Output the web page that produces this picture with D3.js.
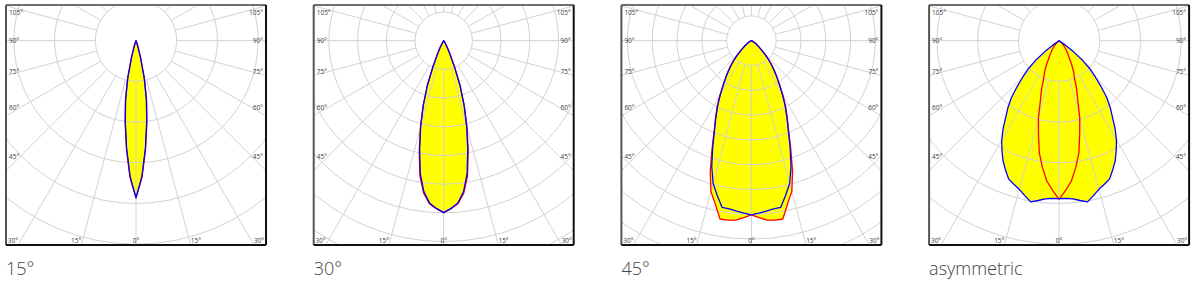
<!DOCTYPE html>
<html>
<head>
<meta charset="utf-8">
<script src="https://cdn.jsdelivr.net/npm/d3@7"></script>
<style>
    body { margin: 0; background: #fff; }
    svg { display: block; font-family: "Open Sans", sans-serif; }
</style>
</head>
<body>
<div id="chart"></div>
<script>
// beam names under each diagram
const titles = ["15°", "30°", "45°", "asymmetric"];

// gamma angles (deg from nadir), shared by all curves
const angles = [0, 2.5, 5, 7.5, 10, 12.5, 15, 17.5, 20, 22.5, 25, 27.5, 30, 32.5, 35,
    37.5, 40, 42.5, 45, 47.5, 50, 52.5, 55, 57.5, 60, 62.5, 65, 67.5, 70];

// ring spacing of each diagram (cd/klm)
const ringSteps = [2000, 1000, 500, 500];

// C0-C180 plane (red), cd/klm
const red15 = [7720, 6720, 5360, 4080, 2980, 1880, 840, 340, 100, 0, 0, 0, 0, 0, 0,
    0, 0, 0, 0, 0, 0, 0, 0, 0, 0, 0, 0, 0, 0];
const red30 = [5990, 5860, 5700, 5360, 4780, 3940, 3140, 2390, 1680, 980, 520, 280, 100, 0, 0,
    0, 0, 0, 0, 0, 0, 0, 0, 0, 0, 0, 0, 0, 0];
const red45 = [3510, 3570, 3630, 3650, 3650, 3370, 3150, 2760, 2320, 1960, 1710, 1490, 1270, 1060, 900,
    760, 630, 510, 390, 290, 210, 160, 120, 90, 60, 40, 20, 10, 0];
const redAsym = [1950, 1840, 1730, 1570, 1400, 1170, 980, 760, 630, 490, 420, 340, 260, 210, 170,
    140, 110, 90, 60, 40, 20, 10, 0, 0, 0, 0, 0, 0, 0];

// C90-C270 plane (blue), cd/klm
const blue15 = [7720, 6680, 5310, 4030, 2950, 1870, 840, 340, 100, 0, 0, 0, 0, 0, 0,
    0, 0, 0, 0, 0, 0, 0, 0, 0, 0, 0, 0, 0, 0];
const blue30 = [5990, 5850, 5680, 5300, 4700, 3870, 3100, 2370, 1670, 970, 520, 280, 100, 0, 0,
    0, 0, 0, 0, 0, 0, 0, 0, 0, 0, 0, 0, 0, 0];
const blue45 = [3510, 3480, 3450, 3420, 3410, 3190, 2980, 2660, 2280, 1940, 1690, 1470, 1250, 1050, 890,
    750, 620, 500, 380, 280, 200, 150, 110, 80, 50, 30, 20, 10, 0];
const blueAsym = [1940, 1940, 1950, 1980, 2010, 1950, 1890, 1850, 1810, 1720, 1630, 1520, 1410, 1280, 1140,
    1030, 910, 760, 630, 520, 380, 220, 90, 0, 0, 0, 0, 0, 0];

// tick labels on the frame
const sideTicks = [105, 90, 75, 60, 45];
const bottomTicks = [-30, -15, 0, 15, 30];
const gridAngles = [0, 15, 30, 45, 60, 75, 90, 105, 120, 135, 150, 165, 180,
    195, 210, 225, 240, 255, 270, 285, 300, 315, 330, 345];

const reds = [red15, red30, red45, redAsym];
const blues = [blue15, blue30, blue45, blueAsym];

// layout
const W = 1202, H = 287;
const frameLeft0 = 6, frameStep = 307.7, frameTop = 5;
const frameW = 260, frameH = 240;
const centerY = 35.7;
const ringPx = [40.7, 28.7, 24.8, 40.7];

const svg = d3.select("#chart").append("svg")
    .attr("width", W)
    .attr("height", H);

// gamma angle -> lineRadial angle (right half), left half is mirrored
const gamma = d3.scaleLinear().domain([0, 180]).range([Math.PI, 0]);

titles.forEach((title, i) => {
    let x0 = frameLeft0 + i * frameStep;
    let cx = frameW / 2, cy = centerY;
    let r = d3.scaleLinear().domain([0, ringSteps[i]]).range([0, ringPx[i]]);

    let g = svg.append("g").attr("transform", `translate(${x0},${frameTop})`);

    g.append("clipPath").attr("id", "clip" + i)
        .append("rect").attr("width", frameW).attr("height", frameH);

    let plot = g.append("g").attr("clip-path", `url(#clip${i})`)
        .append("g").attr("transform", `translate(${cx},${cy})`);

    // closed curve: right half from outer angle to nadir, then left half back out
    let toPoints = vals => {
        let right = angles.map((a, k) => ({ang: gamma(a), v: vals[k]})).reverse();
        let left = angles.slice(1).map((a, k) => ({ang: 2 * Math.PI - gamma(a), v: vals[k + 1]}));
        return right.concat(left);
    };

    let line = d3.lineRadial()
        .angle(d => d.ang)
        .radius(d => r(d.v))
        .curve(d3.curveLinearClosed);

    // yellow fill of both planes
    [reds[i], blues[i]].forEach(vals => {
        plot.append("path")
            .attr("d", line(toPoints(vals)))
            .attr("fill", "#ffff00")
            .attr("stroke", "none");
    });

    // rings
    let rings = d3.range(1, 10).map(k => k * ringSteps[i]);
    plot.selectAll(".ring")
        .data(rings)
        .enter().append("circle")
        .attr("class", "ring")
        .attr("r", d => r(d))
        .attr("fill", "none")
        .attr("stroke", "#d2d2d2")
        .attr("stroke-width", 1);

    // spokes start at the first ring
    plot.selectAll(".spoke")
        .data(gridAngles)
        .enter().append("line")
        .attr("class", "spoke")
        .attr("x1", d => d3.pointRadial(gamma(d), r(ringSteps[i]))[0])
        .attr("y1", d => d3.pointRadial(gamma(d), r(ringSteps[i]))[1])
        .attr("x2", d => d3.pointRadial(gamma(d), 400)[0])
        .attr("y2", d => d3.pointRadial(gamma(d), 400)[1])
        .attr("stroke", "#d2d2d2")
        .attr("stroke-width", 1);

    // curves
    plot.append("path")
        .attr("d", line(toPoints(reds[i])))
        .attr("fill", "none")
        .attr("stroke", "#ff0000")
        .attr("stroke-width", 1.3)
        .attr("stroke-linejoin", "round");

    plot.append("path")
        .attr("d", line(toPoints(blues[i])))
        .attr("fill", "none")
        .attr("stroke", "#0000ff")
        .attr("stroke-width", 1.3)
        .attr("stroke-linejoin", "round");

    // side labels
    let sideY = d => {
        if (d === 90) return cy;
        let y = cy + (frameW / 2 - 14) / Math.tan(d * Math.PI / 180);
        return Math.max(y, 7.7);
    };
    [[3, "start"], [frameW - 3, "end"]].forEach(([x, anchor]) => {
        g.selectAll(null)
            .data(sideTicks)
            .enter().append("text")
            .attr("x", x)
            .attr("y", d => sideY(d))
            .attr("dy", "0.35em")
            .attr("text-anchor", anchor)
            .attr("font-size", 6.5)
            .attr("fill", "#3a3a4a")
            .text(d => d + "°");
    });

    // bottom labels
    g.selectAll(null)
        .data(bottomTicks)
        .enter().append("text")
        .attr("x", d => cx + (frameH - cy) * Math.tan(d * Math.PI / 180))
        .attr("y", frameH - 4)
        .attr("dy", "0.35em")
        .attr("text-anchor", d => d < 0 ? "end" : (d > 0 ? "start" : "middle"))
        .attr("font-size", 6.5)
        .attr("fill", "#3a3a4a")
        .text(d => Math.abs(d) + "°");

    // frame: grey top/left, black bottom/right
    g.append("line").attr("x1", 0).attr("y1", 0).attr("x2", frameW).attr("y2", 0)
        .attr("stroke", "#6e6e6e").attr("stroke-width", 2);
    g.append("line").attr("x1", 0).attr("y1", 0).attr("x2", 0).attr("y2", frameH)
        .attr("stroke", "#555").attr("stroke-width", 2);
    g.append("line").attr("x1", 0).attr("y1", frameH).attr("x2", frameW).attr("y2", frameH)
        .attr("stroke", "#111").attr("stroke-width", 2);
    g.append("line").attr("x1", frameW).attr("y1", 0).attr("x2", frameW).attr("y2", frameH)
        .attr("stroke", "#111").attr("stroke-width", 2);

    // title
    svg.append("text")
        .attr("x", x0)
        .attr("y", 275)
        .attr("font-size", 18)
        .attr("font-weight", 300)
        .attr("fill", "#444")
        .text(title);
});
</script>
</body>
</html>
